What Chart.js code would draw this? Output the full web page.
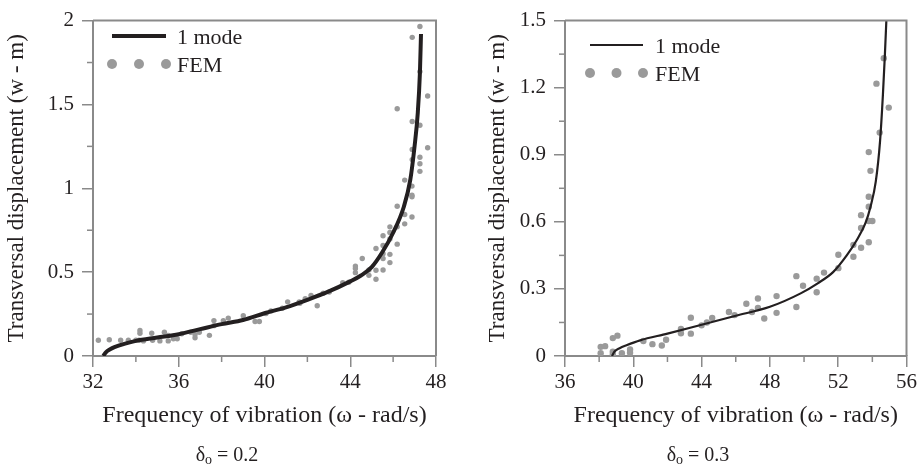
<!DOCTYPE html>
<html>
<head>
<meta charset="utf-8">
<script src="https://cdn.jsdelivr.net/npm/chart.js@4.4.1/dist/chart.umd.min.js"></script>
<style>
  body { margin: 0; background: #fff; width: 920px; height: 473px; position: relative; overflow: hidden; font-family: 'Liberation Serif', 'Times New Roman', serif; color: #231f20; }
  canvas { position: absolute; top: 0; }
  #c1 { left: 0; }
  #c2 { left: 460px; }
  .cap { position: absolute; top: 443px; font-size: 20px; width: 160px; text-align: center; }
  .cap sub { font-size: 14px; vertical-align: -3px; }
</style>
</head>
<body>
<canvas id="c1" width="460" height="473"></canvas>
<canvas id="c2" width="460" height="473"></canvas>
<div class="cap" style="left:147px">δ<sub>o</sub> = 0.2</div>
<div class="cap" style="left:618px">δ<sub>o</sub> = 0.3</div>
<script>
// delta = 0.2, one-mode curve
const leftCurveX = [32.48, 32.6, 32.8, 33.0, 33.5, 34, 35, 36, 37, 38, 39, 40, 41, 42, 43, 44, 44.5, 45, 45.5, 46, 46.5, 46.8, 47.0, 47.15, 47.25, 47.3];
const leftCurveY = [0, 0.022, 0.04, 0.053, 0.074, 0.09, 0.11, 0.13, 0.16, 0.19, 0.215, 0.255, 0.29, 0.335, 0.385, 0.445, 0.48, 0.53, 0.62, 0.735, 0.89, 1.05, 1.25, 1.45, 1.69, 1.92];
// delta = 0.2, FEM
const leftFemX = [32.25, 32.76, 33.29, 33.65, 34.0, 34.19, 34.19, 34.15, 34.35, 34.74, 34.78, 35.12, 35.33, 35.51, 35.51, 35.75, 35.93, 36.14, 36.56, 36.76, 36.76, 36.96, 37.43, 37.64, 37.64, 38.08, 38.31, 39.01, 39.56, 39.76,
  40.07, 40.30, 40.83, 41.08, 41.62, 41.65, 41.90, 42.17, 42.46, 42.74, 43.02, 43.65, 43.93, 44.24, 44.24, 44.24, 44.56, 44.87, 44.87, 45.20, 45.20, 45.20,
  45.53, 45.53, 45.53, 45.53, 45.53, 45.85, 45.85, 45.85, 45.85, 45.85, 46.19, 46.19, 46.19, 46.54, 46.54, 46.54, 46.88, 46.88, 46.88, 46.88,
  47.25, 46.89, 47.25, 47.61, 46.19, 46.89, 47.25, 47.61, 46.89, 46.89, 47.25, 47.25, 47.25];
const leftFemY = [0.094, 0.097, 0.094, 0.094, 0.094, 0.152, 0.136, 0.094, 0.09, 0.136, 0.094, 0.09, 0.142, 0.123, 0.09, 0.103, 0.103, 0.133, 0.142, 0.129, 0.109, 0.142, 0.123, 0.211, 0.181, 0.211, 0.226, 0.24, 0.206, 0.206,
  0.253, 0.269, 0.285, 0.323, 0.323, 0.314, 0.341, 0.361, 0.30, 0.374, 0.382, 0.437, 0.44, 0.536, 0.522, 0.497, 0.581, 0.513, 0.481, 0.641, 0.511, 0.458,
  0.717, 0.659, 0.61, 0.581, 0.513, 0.77, 0.737, 0.698, 0.606, 0.557, 0.893, 0.77, 0.667, 1.049, 0.844, 0.788, 1.013, 0.959, 0.95, 0.829,
  1.965, 1.90, 1.696, 1.55, 1.474, 1.398, 1.376, 1.242, 1.232, 1.171, 1.185, 1.146, 1.101];

// delta = 0.3, one-mode curve
const rightCurveX = [38.75, 38.9, 39.2, 39.6, 40.4, 42, 44, 46, 48, 49.8, 50.8, 51.7, 52.5, 53.1, 53.6, 53.9, 54.2, 54.45, 54.62, 54.73, 54.82];
const rightCurveY = [0, 0.02, 0.035, 0.048, 0.07, 0.1, 0.14, 0.18, 0.22, 0.28, 0.325, 0.375, 0.45, 0.52, 0.595, 0.67, 0.78, 0.96, 1.17, 1.34, 1.5];
// delta = 0.3, FEM
const rightFemX = [38.09, 38.35, 38.09, 38.80, 39.07, 38.80, 38.80, 39.33, 39.81, 39.81, 40.59, 41.12, 41.67, 41.92, 42.79, 42.79, 43.37, 43.37, 44.0, 44.31, 44.62, 45.6, 45.93,
  46.62, 46.95, 47.30, 47.30, 47.67, 48.39, 48.39, 49.55, 49.55, 49.94, 50.74, 50.74, 51.17, 52.01, 52.01, 52.89, 52.89, 53.34, 53.34, 53.34,
  53.79, 53.79, 53.79, 53.79, 54.0, 54.67, 54.24, 54.96, 54.43, 53.79, 53.89];
const rightFemY = [0.041, 0.044, 0.012, 0.08, 0.091, 0.019, 0.007, 0.012, 0.029, 0.015, 0.067, 0.053, 0.047, 0.073, 0.121, 0.102, 0.171, 0.1, 0.137, 0.15, 0.17, 0.197, 0.183,
  0.234, 0.197, 0.257, 0.215, 0.168, 0.268, 0.193, 0.357, 0.219, 0.314, 0.346, 0.285, 0.373, 0.453, 0.393, 0.497, 0.444, 0.63, 0.573, 0.484,
  0.712, 0.668, 0.604, 0.509, 0.604, 1.332, 1.218, 1.111, 0.999, 0.912, 0.828];

const xTitle = 'Frequency of vibration (ω - rad/s)';
const yTitle = 'Transversal displacement (w - m)';

const INK = '#231f20';
const AXIS = '#8a8a8a';
const DOT = '#9a9a9a';
const SERIF = "'Liberation Serif', 'Times New Roman', serif";

Chart.defaults.font.family = SERIF;
Chart.defaults.color = INK;

function pts(xs, ys) {
  return xs.map((x, i) => ({ x: x, y: ys[i] }));
}

// top/right frame, minor ticks and the hand made legend
const decor = {
  id: 'decor',
  afterDraw(chart, args, o) {
    const { ctx, chartArea: a, scales } = chart;
    ctx.save();
    ctx.strokeStyle = AXIS;
    ctx.lineWidth = 2;
    ctx.beginPath();
    ctx.moveTo(a.left, a.top);
    ctx.lineTo(a.right, a.top);
    ctx.lineTo(a.right, a.bottom);
    ctx.stroke();

    ctx.lineWidth = 1.5;
    const xs = scales.x, ys = scales.y;
    for (let v = xs.min + o.xMinor; v < xs.max; v += 2 * o.xMinor) {
      const px = xs.getPixelForValue(v);
      ctx.beginPath(); ctx.moveTo(px, a.bottom); ctx.lineTo(px, a.bottom + o.minorLen); ctx.stroke();
    }
    for (let v = ys.min + o.yMinor; v < ys.max; v += 2 * o.yMinor) {
      const py = ys.getPixelForValue(v);
      ctx.beginPath(); ctx.moveTo(a.left, py); ctx.lineTo(a.left - o.minorLen, py); ctx.stroke();
    }

    const [line, fem] = chart.data.datasets;
    const L = o.legend;
    ctx.strokeStyle = line.borderColor;
    ctx.lineWidth = line.borderWidth;
    ctx.beginPath(); ctx.moveTo(L.x0, L.y1); ctx.lineTo(L.x1, L.y1); ctx.stroke();
    ctx.fillStyle = fem.backgroundColor;
    [0, 0.5, 1].forEach(f => {
      ctx.beginPath();
      ctx.arc(L.x0 + f * (L.x1 - L.x0), L.y2, 5, 0, Math.PI * 2);
      ctx.fill();
    });
    ctx.fillStyle = INK;
    ctx.font = '22px ' + SERIF;
    ctx.textBaseline = 'alphabetic';
    ctx.fillText(line.label, L.tx, L.y1 + 8);
    ctx.fillText(fem.label, L.tx, L.y2 + 8);
    ctx.restore();
  }
};

function makeChart(id, cfg) {
  return new Chart(document.getElementById(id), {
    type: 'line',
    data: {
      datasets: [
        {
          label: '1 mode',
          data: pts(cfg.curveX, cfg.curveY),
          borderColor: INK,
          borderWidth: cfg.lineWidth,
          pointRadius: 0,
          cubicInterpolationMode: 'monotone',
          fill: false
        },
        {
          label: 'FEM',
          data: pts(cfg.femX, cfg.femY),
          showLine: false,
          backgroundColor: DOT,
          borderWidth: 0,
          pointRadius: cfg.dotR,
          pointHoverRadius: cfg.dotR
        }
      ]
    },
    options: {
      responsive: false,
      animation: false,
      devicePixelRatio: 1,
      layout: { padding: { top: 14, right: cfg.padRight, bottom: 0, left: 0 } },
      plugins: {
        legend: { display: false },
        tooltip: { enabled: false },
        decor: { xMinor: 2, yMinor: cfg.yMinor, minorLen: 6, legend: cfg.legend }
      },
      scales: {
        x: {
          type: 'linear',
          min: cfg.xMin, max: cfg.xMax,
          afterFit: s => { s.height = 117; },
          border: { display: true, color: AXIS, width: 2 },
          grid: { drawOnChartArea: false, drawTicks: true, tickLength: 11, color: AXIS, lineWidth: 1.5 },
          ticks: { stepSize: 4, padding: 3, font: { size: 21 }, color: INK, maxRotation: 0 },
          title: { display: true, text: xTitle, font: { size: 24 }, color: INK, padding: { top: 0, bottom: 43 } }
        },
        y: {
          min: 0, max: cfg.yMax,
          afterFit: s => { s.width = cfg.yWidth; },
          border: { display: true, color: AXIS, width: 2 },
          grid: { drawOnChartArea: false, drawTicks: true, tickLength: 11, color: AXIS, lineWidth: 1.5 },
          ticks: { stepSize: cfg.yStep, padding: 8, font: { size: 21 }, color: INK, callback: v => +v.toFixed(2) },
          title: { display: true, text: yTitle, font: { size: 23 }, color: INK, padding: { top: cfg.yTitlePad, bottom: 0 } }
        }
      }
    },
    plugins: [decor]
  });
}

makeChart('c1', {
  curveX: leftCurveX, curveY: leftCurveY, femX: leftFemX, femY: leftFemY,
  lineWidth: 4, dotR: 2.7,
  xMin: 32, xMax: 48, yMax: 2, yStep: 0.5, yMinor: 0.25,
  yWidth: 93, padRight: 24, yTitlePad: 3,
  legend: { x0: 112, x1: 166, y1: 36, y2: 64, tx: 177 }
});

makeChart('c2', {
  curveX: rightCurveX, curveY: rightCurveY, femX: rightFemX, femY: rightFemY,
  lineWidth: 2.2, dotR: 3.2,
  xMin: 36, xMax: 56, yMax: 1.5, yStep: 0.3, yMinor: 0.15,
  yWidth: 105, padRight: 13, yTitlePad: 24,
  legend: { x0: 130, x1: 183, y1: 45, y2: 73, tx: 195 }
});
</script>
</body>
</html>
